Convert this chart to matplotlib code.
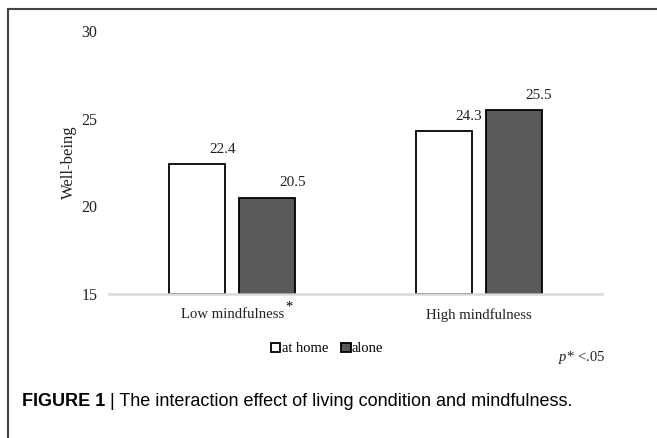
import matplotlib
matplotlib.use('Agg')
import matplotlib.pyplot as plt
from matplotlib.lines import Line2D
import numpy as np

groups = ['Low mindfulness', 'High mindfulness']
series = ['at home', 'alone']
at_home = [22.4, 24.3]
alone = [20.5, 25.5]
yticks = [15, 20, 25, 30]

plt.rcParams['font.family'] = 'Liberation Serif'
plt.rcParams['mathtext.fontset'] = 'custom'
plt.rcParams['mathtext.it'] = 'Liberation Serif:italic'
plt.rcParams['mathtext.rm'] = 'Liberation Serif'

fig = plt.figure(figsize=(6.57, 4.38), dpi=100)
ax = fig.add_axes([109/657, 1-294/438, 493/657, 263/438])

x = np.arange(len(groups))
w = 0.227
off = 0.142
b1 = ax.bar(x - off, np.array(at_home) - 15, w, bottom=15, color='white',
            edgecolor='black', lw=1.3, label=series[0], zorder=3)
b2 = ax.bar(x + off, np.array(alone) - 15, w, bottom=15, color='#595959',
            edgecolor='black', lw=1.3, label=series[1], zorder=3)

for bars, vals in [(b1, at_home), (b2, alone)]:
    for r, v in zip(bars, vals):
        ax.annotate(f'{v}', (r.get_x() + r.get_width()/2, v),
                    xytext=(18, 6), textcoords='offset points',
                    ha='center', va='bottom', fontsize=11, color='#222222')

ax.set_xlim(-0.5, 1.5)
ax.set_ylim(15, 30)
ax.set_yticks(yticks)
ax.set_xticks(x)
ax.set_xticklabels(groups)
ax.tick_params(length=0, labelsize=11.5, colors='#222222')
ax.tick_params(axis='x', pad=10, labelsize=10.6)
ax.tick_params(axis='y', pad=8.5)
for s in ['left', 'right', 'top']:
    ax.spines[s].set_visible(False)
ax.spines['bottom'].set_color('#d9d9d9')
ax.spines['bottom'].set_linewidth(1.8)
ax.spines['bottom'].set_zorder(4)
ax.set_ylabel('Well-being', fontsize=12, labelpad=3, color='#222222')

# asterisk after the first category label
fig.canvas.draw()
bb = ax.get_xticklabels()[0].get_window_extent()
fig.text((bb.x1 + 1)/657, (bb.y1 + 1)/438, '*', fontsize=10.5, va='center', ha='left')

leg = fig.legend(handles=[b1, b2], labels=series, loc='center',
                 bbox_to_anchor=(327/657, 1-349/438), ncol=2, frameon=False,
                 fontsize=10.5, handlelength=0.65, handleheight=0.65,
                 handletextpad=0.1, columnspacing=0.9)

fig.text(582/657, 1-357/438, r'$p$* <.05', fontsize=10.5,
         ha='center', va='center', color='#222222')

# frame
fig.add_artist(Line2D([8/657, 1], [1-8.5/438]*2, color='#444444', lw=1.5))
fig.add_artist(Line2D([8/657]*2, [0, 1-8.5/438], color='#444444', lw=1.5))

t1 = fig.text(22/657, 1-401/438, 'FIGURE 1 ', fontsize=13, fontweight='bold',
              family='Liberation Sans', va='center', ha='left')
fig.canvas.draw()
e = t1.get_window_extent()
fig.text(e.x1/657, 1-401/438, '| The interaction effect of living condition and mindfulness.',
         fontsize=13, family='Liberation Sans', va='center', ha='left')

fig.savefig('out.png', dpi=100)
